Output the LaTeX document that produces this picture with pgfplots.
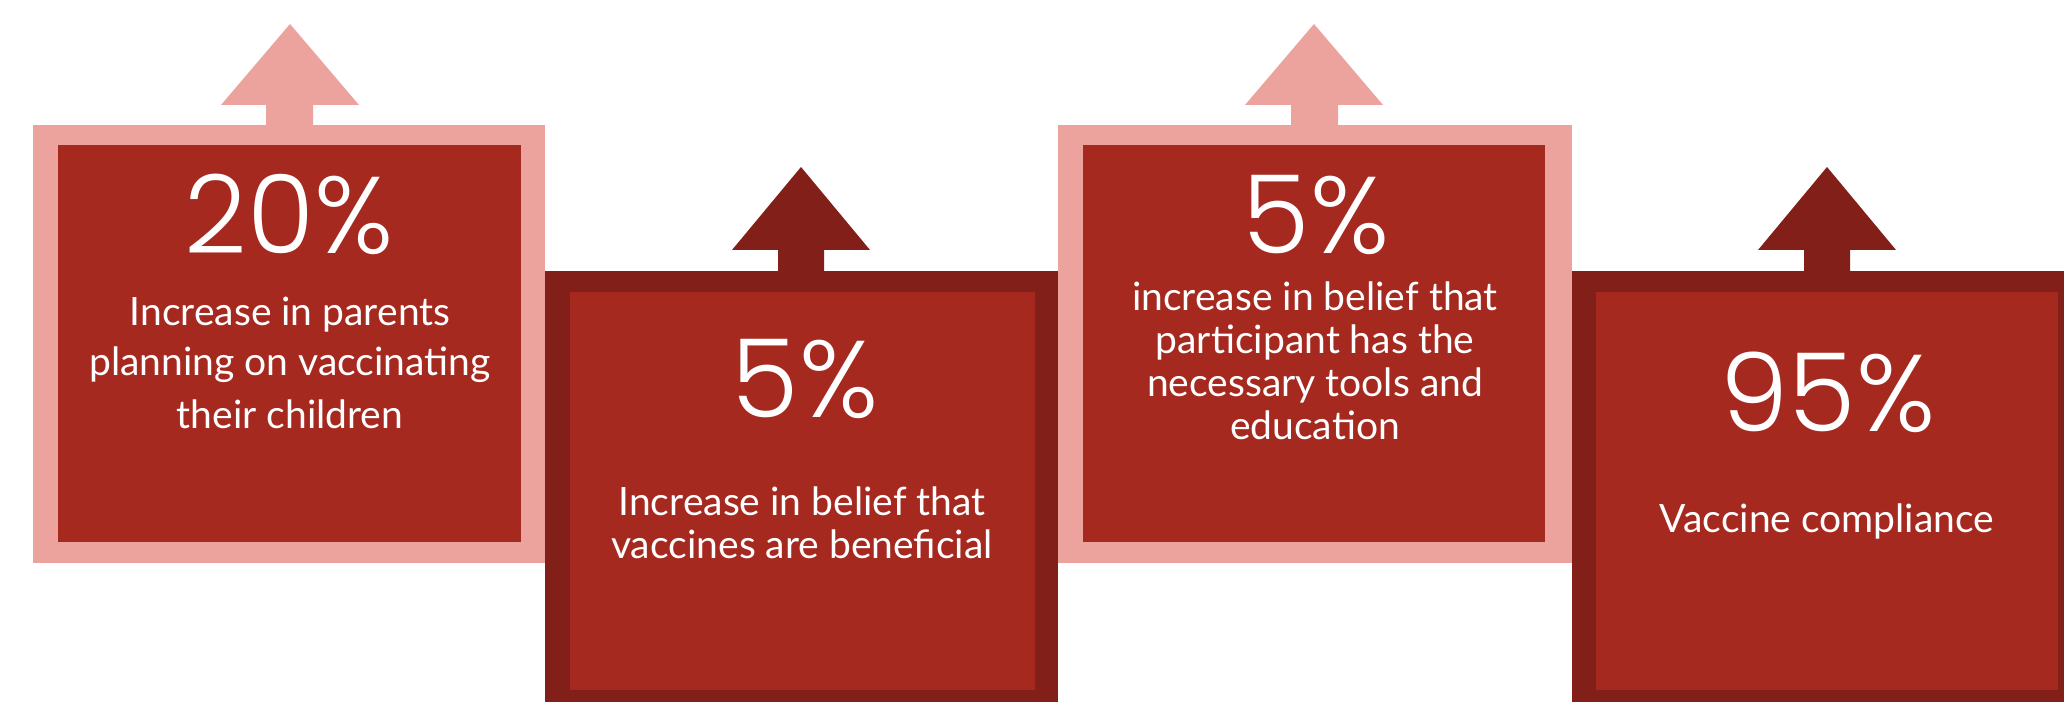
\documentclass[border=0pt]{standalone}
\usepackage{fontspec}
\setmainfont{Lato}
\newfontfamily\pctfont{Poppins}[UprightFont=* Light]
\usepackage{pgfplots}
\pgfplotsset{compat=1.18}
\definecolor{pinkc}{HTML}{EDA39D}
\definecolor{redc}{HTML}{A62920}
\definecolor{darkc}{HTML}{821F18}
\tikzset{
  pct/.style={text=white, anchor=base, inner sep=0pt, font=\pctfont\fontsize{31}{31}\selectfont},
  dsc/.style={text=white, anchor=base, inner sep=0pt, font=\fontsize{11.1}{13}\selectfont}}
\begin{document}
\begin{tikzpicture}
\begin{axis}[scale only axis, width=20.64cm, height=7.02cm,
  xmin=0, xmax=2064, ymin=0, ymax=702, hide axis, clip=false]
% frame for the bounding box
\addplot[draw=none, forget plot] coordinates {(0,0) (2064,0) (2064,702) (0,702)};
% ---- block 1 (light) ----
\addplot[fill=pinkc, draw=none] coordinates {(33,139) (545,139) (545,577) (33,577)} -- cycle;
\addplot[fill=redc, draw=none] coordinates {(58,160) (521,160) (521,557) (58,557)} -- cycle;
\addplot[fill=pinkc, draw=none] coordinates {(221,597) (290,678) (359,597) (313,597) (313,575) (266,575) (266,597)} -- cycle;
% ---- block 2 (dark) ----
\addplot[fill=darkc, draw=none] coordinates {(545,0) (1058,0) (1058,431) (545,431)} -- cycle;
\addplot[fill=redc, draw=none] coordinates {(570,12) (1035,12) (1035,410) (570,410)} -- cycle;
\addplot[fill=darkc, draw=none] coordinates {(732,452) (801,535) (870,452) (824,452) (824,429) (778,429) (778,452)} -- cycle;
% ---- block 3 (light) ----
\addplot[fill=pinkc, draw=none] coordinates {(1058,139) (1572,139) (1572,577) (1058,577)} -- cycle;
\addplot[fill=redc, draw=none] coordinates {(1083,160) (1545,160) (1545,557) (1083,557)} -- cycle;
\addplot[fill=pinkc, draw=none] coordinates {(1245,597) (1314,678) (1383,597) (1338,597) (1338,575) (1291,575) (1291,597)} -- cycle;
% ---- block 4 (dark) ----
\addplot[fill=darkc, draw=none] coordinates {(1572,0) (2064,0) (2064,431) (1572,431)} -- cycle;
\addplot[fill=redc, draw=none] coordinates {(1596,12) (2058,12) (2058,410) (1596,410)} -- cycle;
\addplot[fill=darkc, draw=none] coordinates {(1758,452) (1827,535) (1896,452) (1850,452) (1850,429) (1804,429) (1804,452)} -- cycle;
% ---- texts ----
\node[pct] at (axis cs:289,448) {20\%};
\node[dsc] at (axis cs:290,376) {Increase in parents};
\node[dsc] at (axis cs:290,326) {planning on vaccinating};
\node[dsc] at (axis cs:290,273) {their children};
\node[pct] at (axis cs:805,284) {5\%};
\node[dsc] at (axis cs:802,186) {Increase in belief that};
\node[dsc] at (axis cs:802,143) {vaccines are beneficial};
\node[pct] at (axis cs:1316,448) {5\%};
\node[dsc] at (axis cs:1315,391) {increase in belief that};
\node[dsc] at (axis cs:1315,348) {participant has the};
\node[dsc] at (axis cs:1315,305) {necessary tools and};
\node[dsc] at (axis cs:1315,262) {education};
\node[pct] at (axis cs:1828,270) {95\%};
\node[dsc] at (axis cs:1827,169) {Vaccine compliance};
\end{axis}
\end{tikzpicture}
\end{document}
